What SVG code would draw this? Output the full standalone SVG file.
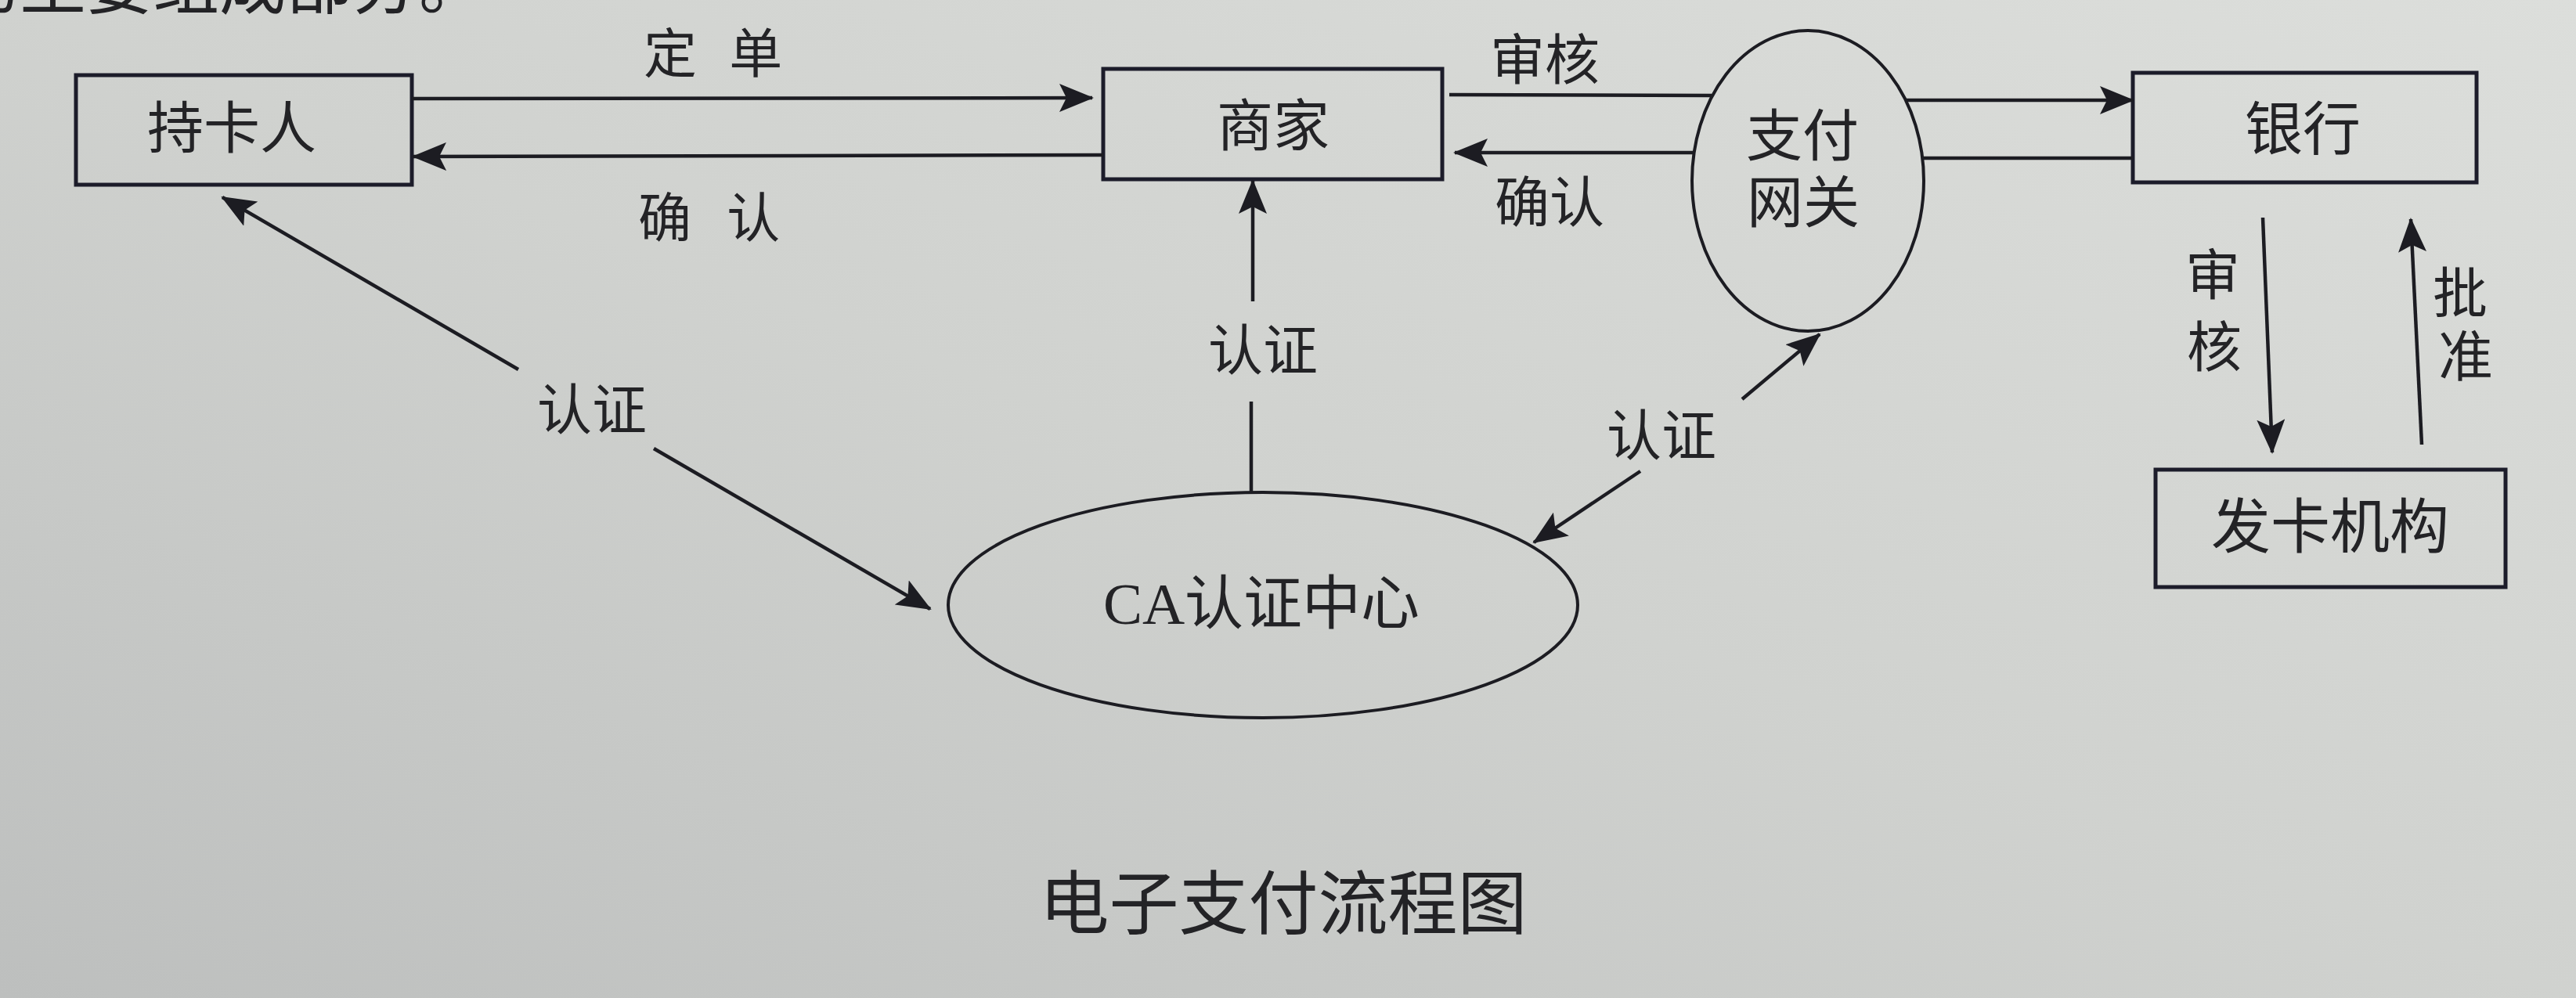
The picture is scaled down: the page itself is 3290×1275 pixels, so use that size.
<svg xmlns="http://www.w3.org/2000/svg" width="3290" height="1275" viewBox="0 0 3290 1275">
<defs>
<linearGradient id="bg" x1="1" y1="0" x2="0" y2="1">
<stop offset="0" stop-color="#dcdedb"/>
<stop offset="0.5" stop-color="#d0d2cf"/>
<stop offset="1" stop-color="#bdbfbe"/>
</linearGradient>
<marker id="ah" markerUnits="userSpaceOnUse" markerWidth="44" markerHeight="36" viewBox="0 0 44 36" refX="42" refY="18" orient="auto">
<path d="M0,0 L44,18 L0,36 L9,18 z" fill="#1c1c22"/>
</marker>
<style>
.box{fill:none;stroke:#1c1c2a;stroke-width:5}
.ell{fill:none;stroke:#1c1c22;stroke-width:4}
.conn line{stroke:#1c1c22;stroke-width:4.5;fill:none}
.arr{marker-end:url(#ah)}
text{font-family:"Noto Sans CJK SC","Noto Sans CJK TC",sans-serif;fill:#232326}
.n{font-size:72px;text-anchor:middle}
.l{font-size:68px}
.lc{font-size:70px;text-anchor:middle}
</style>
</defs>
<rect x="0" y="0" width="3290" height="1275" fill="url(#bg)"/>
<text x="-60" y="11" style="font-size:85px">的主要组成部分。</text>

<g id="cardholder">
<rect class="box" x="97" y="96" width="429" height="140"/>
<text class="n" x="296" y="189">持卡人</text>
</g>
<g id="merchant">
<rect class="box" x="1409" y="88" width="433" height="141"/>
<text class="n" x="1626" y="186">商家</text>
</g>
<g id="gateway">
<ellipse class="ell" cx="2309" cy="231" rx="148" ry="192"/>
<text class="n"><tspan x="2302" y="199">支付</tspan><tspan x="2303" y="284">网关</tspan></text>
</g>
<g id="bank">
<rect class="box" x="2724" y="93" width="439" height="140"/>
<text class="n" x="2941" y="191" style="font-size:74px">银行</text>
</g>
<g id="issuer">
<rect class="box" x="2753" y="600" width="447" height="150"/>
<text class="n" x="2976" y="700" style="font-size:76px">发卡机构</text>
</g>
<g id="ca">
<ellipse class="ell" cx="1613" cy="773" rx="402" ry="144"/>
<text class="n" x="1611" y="797" style="font-size:75px"><tspan style="font-family:'Liberation Serif',serif">CA</tspan>认证中心</text>
</g>

<g id="connectors" class="conn">
<line class="arr" x1="526" y1="126" x2="1395" y2="125"/>
<line class="arr" x1="1409" y1="198" x2="528" y2="200"/>
<line x1="1851" y1="121" x2="2186" y2="122"/>
<line class="arr" x1="2433" y1="128" x2="2724" y2="128"/>
<line x1="2724" y1="202" x2="2455" y2="202"/>
<line class="arr" x1="2163" y1="195" x2="1858" y2="195"/>
<line x1="1598" y1="628" x2="1598" y2="513"/>
<line class="arr" x1="1600" y1="385" x2="1600" y2="231"/>
<line class="arr" x1="662" y1="472" x2="284" y2="252"/>
<line class="arr" x1="835" y1="573" x2="1188" y2="778"/>
<line class="arr" x1="2095" y1="602" x2="1959" y2="693"/>
<line class="arr" x1="2225" y1="510" x2="2324" y2="427"/>
<line class="arr" x1="2890" y1="278" x2="2902" y2="578"/>
<line class="arr" x1="3093" y1="568" x2="3079" y2="280"/>
</g>

<g id="labels">
<text class="l" x="822" y="93" word-spacing="26">定 单</text>
<text class="l" x="815" y="303" word-spacing="30">确 认</text>
<text class="lc" x="1973" y="102">审核</text>
<text class="lc" x="1979" y="284">确认</text>
<text class="lc" x="756" y="549">认证</text>
<text class="lc" x="1613" y="473">认证</text>
<text class="lc" x="2122" y="582">认证</text>
<text class="lc"><tspan x="2826" y="377">审</tspan><tspan x="2828" y="469">核</tspan></text>
<text class="lc"><tspan x="3142" y="400">批</tspan><tspan x="3149" y="481">准</tspan></text>
</g>
<text x="1639" y="1186" style="font-size:89px;text-anchor:middle">电子支付流程图</text>
</svg>
